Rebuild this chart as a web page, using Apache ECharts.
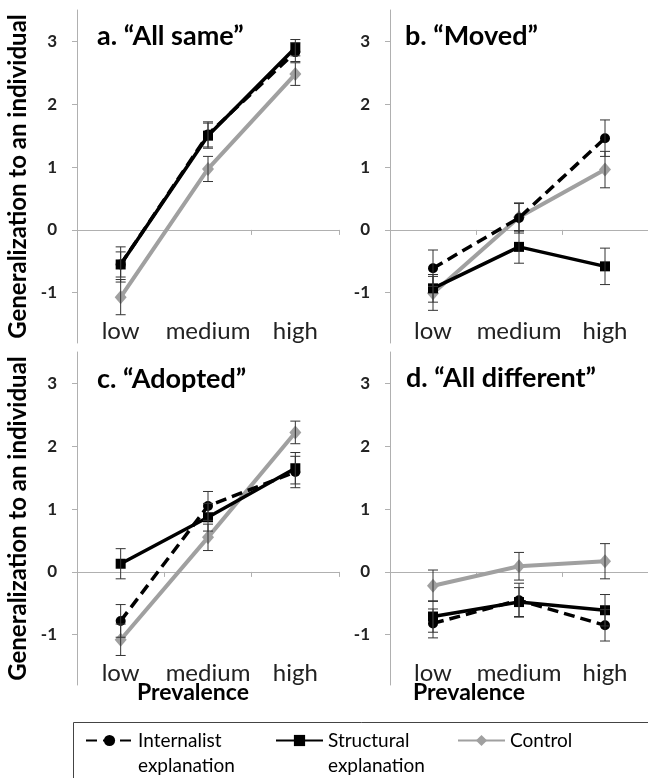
<!DOCTYPE html>
<html>
<head>
<meta charset="utf-8">
<script src="https://cdn.jsdelivr.net/npm/echarts@6/dist/echarts.min.js"></script>
<style>
  html, body { margin: 0; padding: 0; background: #fff; }
  #chart { width: 648px; height: 778px; }
</style>
</head>
<body>
<div id="chart"></div>
<script>
const categories = ['low', 'medium', 'high'];
const yTicks = [-1, 0, 1, 2, 3];
const panelTitles = ['a. “All same”', 'b. “Moved”', 'c. “Adopted”', 'd. “All different”'];
const seriesNames = ['Internalist explanation', 'Structural explanation', 'Control'];

// one row per panel (a, b, c, d), values for low / medium / high
const internalistMeans = [
  [-0.55, 1.52, 2.83],
  [-0.61, 0.19, 1.46],
  [-0.78, 1.05, 1.59],
  [-0.82, -0.45, -0.85]
];
const internalistSE = [
  [0.28, 0.2, 0.15],
  [0.29, 0.24, 0.29],
  [0.26, 0.23, 0.25],
  [0.23, 0.27, 0.25]
];
const structuralMeans = [
  [-0.55, 1.5, 2.9],
  [-0.93, -0.27, -0.58],
  [0.13, 0.87, 1.65],
  [-0.71, -0.48, -0.61]
];
const structuralSE = [
  [0.2, 0.2, 0.13],
  [0.22, 0.26, 0.29],
  [0.24, 0.22, 0.25],
  [0.25, 0.23, 0.25]
];
const controlMeans = [
  [-1.07, 0.97, 2.48],
  [-1.01, 0.2, 0.96],
  [-1.08, 0.55, 2.22],
  [-0.22, 0.09, 0.17]
];
const controlSE = [
  [0.28, 0.2, 0.18],
  [0.27, 0.22, 0.29],
  [0.25, 0.21, 0.18],
  [0.25, 0.22, 0.28]
];

const FONT = 'Lato';
const AXIS_GREY = '#b0b0b0';
const gridPos = [
  { left: 77, top: 10 },
  { left: 390, top: 10 },
  { left: 77, top: 352 },
  { left: 390, top: 352 }
];

const chart = echarts.init(document.getElementById('chart'));

const grids = [], xAxes = [], yAxes = [], series = [];

function errorBars(k, means, se) {
  return {
    type: 'custom',
    xAxisIndex: 2 * k,
    yAxisIndex: k,
    z: 5,
    silent: true,
    data: means.map((m, i) => [i, m - se[i], m + se[i]]),
    renderItem(params, api) {
      const lo = api.coord([api.value(0), api.value(1)]);
      const hi = api.coord([api.value(0), api.value(2)]);
      const hw = 5;
      const st = { stroke: '#333', lineWidth: 1 };
      return {
        type: 'group',
        children: [
          { type: 'line', shape: { x1: lo[0], y1: lo[1], x2: hi[0], y2: hi[1] }, style: st },
          { type: 'line', shape: { x1: hi[0] - hw, y1: hi[1], x2: hi[0] + hw, y2: hi[1] }, style: st },
          { type: 'line', shape: { x1: lo[0] - hw, y1: lo[1], x2: lo[0] + hw, y2: lo[1] }, style: st }
        ]
      };
    }
  };
}

for (let k = 0; k < 4; k++) {
  grids.push({ left: gridPos[k].left, top: gridPos[k].top, width: 262, height: 333 });
  // category labels sit inside the plot, at the bottom
  xAxes.push({
    gridIndex: k,
    type: 'category',
    data: categories,
    position: 'bottom',
    axisLine: { show: false, onZero: false },
    axisTick: { show: false },
    axisLabel: { inside: true, interval: 0, margin: 0, fontSize: 24, color: '#222', fontFamily: FONT }
  });
  // axis line through zero with boundary ticks
  xAxes.push({
    gridIndex: k,
    type: 'category',
    data: categories,
    position: 'bottom',
    axisLine: { show: true, onZero: true, lineStyle: { color: AXIS_GREY, width: 1 } },
    axisTick: { show: true, length: 5, lineStyle: { color: AXIS_GREY } },
    axisLabel: { show: false }
  });
  yAxes.push({
    gridIndex: k,
    type: 'value',
    min: -1.8,
    max: 3.5,
    splitLine: { show: false },
    axisLine: { show: true, onZero: false, lineStyle: { color: AXIS_GREY, width: 1 } },
    axisTick: { show: true, length: 5, customValues: yTicks, lineStyle: { color: AXIS_GREY } },
    axisLabel: {
      customValues: yTicks,
      fontSize: 17,
      fontWeight: 'bold',
      color: '#222',
      fontFamily: FONT,
      margin: 20
    },
    name: k % 2 === 0 ? 'Generalization to an individual' : '',
    nameLocation: 'middle',
    nameGap: 47,
    nameTextStyle: { fontSize: 24, fontWeight: 'bold', color: '#000', fontFamily: FONT }
  });

  series.push({
    name: seriesNames[2],
    type: 'line',
    xAxisIndex: 2 * k,
    yAxisIndex: k,
    data: controlMeans[k],
    symbol: 'diamond',
    symbolSize: [12, 14],
    itemStyle: { color: '#a0a0a0' },
    lineStyle: { color: '#a0a0a0', width: 4 },
    z: 2
  });
  series.push({
    name: seriesNames[1],
    type: 'line',
    xAxisIndex: 2 * k,
    yAxisIndex: k,
    data: structuralMeans[k],
    symbol: 'rect',
    symbolSize: 10,
    itemStyle: { color: '#000' },
    lineStyle: { color: '#000', width: 3.5 },
    z: 3
  });
  series.push({
    name: seriesNames[0],
    type: 'line',
    xAxisIndex: 2 * k,
    yAxisIndex: k,
    data: internalistMeans[k],
    symbol: 'circle',
    symbolSize: 10,
    itemStyle: { color: '#000' },
    lineStyle: { color: '#000', width: 3.5, type: [11, 6] },
    z: 4
  });
  series.push(errorBars(k, controlMeans[k], controlSE[k]));
  series.push(errorBars(k, structuralMeans[k], structuralSE[k]));
  series.push(errorBars(k, internalistMeans[k], internalistSE[k]));
}

const titleStyle = { fontSize: 27, fontWeight: 'bold', color: '#000', fontFamily: FONT };
const axisTitleStyle = { fontSize: 23, fontWeight: 'bold', color: '#000', fontFamily: FONT };
const titles = [
  { text: panelTitles[0], left: 97, top: 23 },
  { text: panelTitles[1], left: 405, top: 23 },
  { text: panelTitles[2], left: 97, top: 366 },
  { text: panelTitles[3], left: 406, top: 365 },
  { text: 'Prevalence', left: 137, top: 681, textStyle: axisTitleStyle },
  { text: 'Prevalence', left: 413, top: 681, textStyle: axisTitleStyle }
].map(t => Object.assign({ padding: 0, textStyle: titleStyle }, t));

function legendAt(name, left, label) {
  return {
    data: [name],
    left: left,
    top: 703,
    padding: 0,
    itemWidth: 47,
    itemHeight: 14,
    selectedMode: false,
    formatter: () => label,
    textStyle: { fontSize: 19, lineHeight: 25, color: '#000', fontFamily: FONT }
  };
}

chart.setOption({
  backgroundColor: '#fff',
  animation: false,
  title: titles,
  grid: grids,
  xAxis: xAxes,
  yAxis: yAxes,
  legend: [
    legendAt(seriesNames[0], 85, ' \nInternalist\nexplanation'),
    legendAt(seriesNames[1], 275, ' \nStructural\nexplanation'),
    legendAt(seriesNames[2], 457, ' \nControl\n ')
  ],
  graphic: [{
    type: 'rect',
    shape: { x: 73.5, y: 722.5, width: 640, height: 100 },
    style: { fill: 'none', stroke: '#444', lineWidth: 1 },
    silent: true
  }],
  series: series
});
</script>
</body>
</html>
